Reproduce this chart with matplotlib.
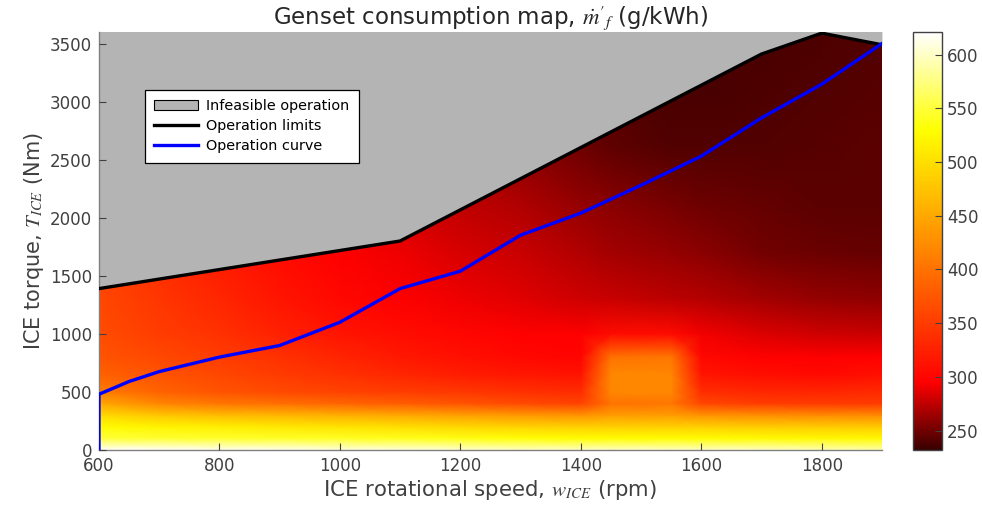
import numpy as np
import matplotlib
matplotlib.use('Agg')
from matplotlib import pyplot as plt
from matplotlib.colors import LinearSegmentedColormap
from matplotlib.patches import Patch
from matplotlib.lines import Line2D

# consumption map grid (g/kWh)
speeds = [600, 700, 800, 900, 1000, 1100, 1200, 1300, 1400, 1450, 1550, 1600, 1700, 1800, 1900]
torques = [0, 100, 200, 300, 400, 500, 650, 800, 1000, 1300, 1700, 2100, 2600, 3100, 3600]
bsfc = [
    [620, 620, 615, 615, 610, 610, 605, 600, 600, 600, 600, 600, 600, 595, 590],
    [550, 548, 546, 544, 542, 540, 536, 532, 528, 528, 528, 528, 526, 524, 524],
    [528, 520, 515, 510, 505, 500, 494, 490, 486, 486, 486, 486, 484, 482, 482],
    [495, 478, 468, 462, 456, 450, 442, 436, 430, 440, 440, 430, 425, 422, 422],
    [450, 418, 405, 398, 390, 382, 372, 364, 358, 400, 405, 360, 352, 350, 350],
    [410, 386, 372, 364, 358, 352, 346, 340, 336, 420, 420, 338, 330, 330, 334],
    [385, 372, 360, 350, 340, 330, 322, 316, 314, 420, 420, 315, 308, 304, 310],
    [372, 362, 352, 340, 328, 318, 310, 303, 300, 400, 405, 303, 297, 295, 297],
    [365, 352, 340, 326, 315, 307, 301, 297, 295, 305, 305, 292, 285, 280, 278],
    [360, 345, 330, 315, 303, 295, 290, 286, 280, 278, 274, 272, 266, 262, 260],
    [355, 336, 320, 305, 295, 290, 283, 278, 270, 266, 262, 258, 251, 248, 247],
    [348, 328, 310, 296, 287, 281, 275, 270, 262, 258, 252, 249, 246, 244, 244],
    [342, 322, 303, 290, 281, 273, 266, 258, 250, 245, 241, 240, 241, 242, 244],
    [336, 316, 299, 286, 276, 268, 260, 252, 245, 241, 238, 238, 239, 240, 242],
    [330, 310, 295, 282, 272, 264, 256, 248, 242, 239, 237, 237, 238, 239, 240],
]

# max torque line
lim_speed = [600, 1100, 1700, 1800, 1900]
lim_torque = [1390, 1800, 3410, 3590, 3490]

# operating curve
op_speed = [600, 600, 650, 700, 800, 900, 1000, 1100, 1200, 1300, 1400, 1500, 1600, 1700, 1800, 1900]
op_torque = [0, 480, 590, 675, 800, 900, 1100, 1390, 1540, 1850, 2040, 2280, 2530, 2860, 3150, 3500]

vmin, vmax = 232, 621
cmap = LinearSegmentedColormap.from_list('genset', [
    ((232 - vmin) / (vmax - vmin), '#3a0000'),
    ((295 - vmin) / (vmax - vmin), '#ff0000'),
    ((530 - vmin) / (vmax - vmin), '#ffff00'),
    ((621 - vmin) / (vmax - vmin), '#ffffff'),
])

plt.rcParams['font.family'] = 'DejaVu Sans'
plt.rcParams['mathtext.fontset'] = 'stix'

fig = plt.figure(figsize=(9.82, 5.11), dpi=100)
ax = fig.add_axes([0.1008, 0.1194, 0.7973, 0.818])

S, T = np.meshgrid(speeds, torques)
mesh = ax.pcolormesh(S, T, np.array(bsfc), cmap=cmap, vmin=vmin, vmax=vmax,
                     shading='gouraud', zorder=1)
ax.fill_between(lim_speed, lim_torque, 3800, color='#b4b4b4', lw=0, zorder=2)
ax.plot(lim_speed, lim_torque, color='black', lw=2.4, zorder=3)
ax.plot(op_speed, op_torque, color='#0000ff', lw=2.4, zorder=4)

ax.set_xlim(600, 1900)
ax.set_ylim(0, 3600)
ax.set_xticks(range(600, 1900, 200))
ax.set_yticks(range(0, 3600, 500))
ax.tick_params(direction='in', length=5, labelsize=12, colors='#404040')
ax.tick_params(axis='x', pad=5)
ax.tick_params(axis='y', pad=5)
for s in ['top', 'right']:
    ax.spines[s].set_visible(False)
for s in ['left', 'bottom']:
    ax.spines[s].set_color('#808080')
    ax.spines[s].set_linewidth(1.0)
ax.set_axisbelow(False)

ax.set_title(r"Genset consumption map, $\dot{m}'_f$ (g/kWh)", fontsize=16.5, color='#262626', pad=3)
ax.set_xlabel(r"ICE rotational speed, $w_{ICE}$ (rpm)", fontsize=15.3, color='#404040', labelpad=2)
ax.set_ylabel(r"ICE torque, $T_{ICE}$ (Nm)", fontsize=15, color='#404040', labelpad=3)

handles = [Patch(facecolor='#b4b4b4', edgecolor='black', lw=0.8, label='Infeasible operation'),
           Line2D([], [], color='black', lw=2.4, label='Operation limits'),
           Line2D([], [], color='#0000ff', lw=2.4, label='Operation curve')]
leg = ax.legend(handles=handles, loc='upper left', bbox_to_anchor=(0.0587, 0.862),
                borderaxespad=0, fancybox=False, framealpha=1, edgecolor='black',
                fontsize=10.4, handlelength=3.0, handletextpad=0.6, labelspacing=0.42,
                borderpad=0.65)
leg.get_frame().set_linewidth(0.9)
leg.set_zorder(10)

cax = fig.add_axes([0.9297, 0.1194, 0.0296, 0.818])
cb = fig.colorbar(mesh, cax=cax)
cb.set_ticks(range(250, 601, 50))
cb.ax.tick_params(direction='in', length=5, labelsize=12, colors='#404040')
cb.outline.set_edgecolor('#404040')
cb.outline.set_linewidth(1.0)

fig.savefig('out.png', dpi=100)
